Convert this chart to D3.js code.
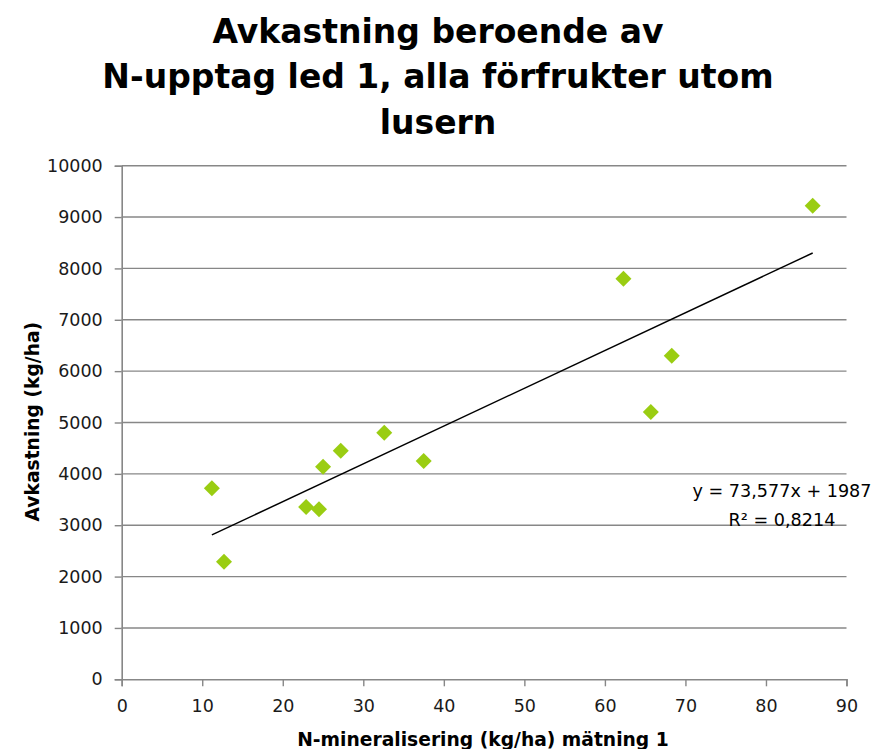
<!DOCTYPE html>
<html><head><meta charset="utf-8">
<script src="https://cdn.jsdelivr.net/npm/d3@7"></script>
<style>body{margin:0;background:#fff}svg{display:block}</style>
</head><body>
<script>
const titleLines = ["Avkastning beroende av", "N-upptag led 1, alla förfrukter utom", "lusern"];
const xTitle = "N-mineralisering (kg/ha) mätning 1";
const yTitle = "Avkastning (kg/ha)";
const xValues = [11.2, 12.7, 22.9, 24.5, 25.0, 27.2, 32.6, 37.5, 62.3, 65.7, 68.3, 85.8];
const yValues = [3720, 2290, 3355, 3310, 4140, 4450, 4800, 4250, 7800, 5205, 6300, 9220];
const xTicks = [0, 10, 20, 30, 40, 50, 60, 70, 80, 90];
const yTicks = [0, 1000, 2000, 3000, 4000, 5000, 6000, 7000, 8000, 9000, 10000];
const slope = 73.577, intercept = 1987;
const eqLines = ["y = 73,577x + 1987", "R² = 0,8214"];

const W = 877, H = 749;
const svg = d3.select("body").append("svg").attr("width", W).attr("height", H);
const x = d3.scaleLinear().domain([0, 90]).range([121.7, 846.5]);
const y = d3.scaleLinear().domain([0, 10000]).range([679.3, 165.7]);
const grid = "#878787";

// gridlines
svg.append("g").selectAll("line").data(yTicks.filter(d => d > 0)).join("line")
  .attr("x1", x(0)).attr("x2", x(90)).attr("y1", d => y(d)).attr("y2", d => y(d))
  .attr("stroke", grid).attr("stroke-width", 1.4);

// y axis
const yAxis = svg.append("g").attr("transform", `translate(${x(0)},0)`)
  .call(d3.axisLeft(y).tickValues(yTicks).tickSize(7).tickPadding(12).tickFormat(d3.format("d")));
// x axis
const xAxis = svg.append("g").attr("transform", `translate(0,${y(0)})`)
  .call(d3.axisBottom(x).tickValues(xTicks).tickSize(7).tickPadding(13).tickFormat(d3.format("d")));
[yAxis, xAxis].forEach(a => {
  a.select(".domain").attr("stroke", grid).attr("stroke-width", 1.6);
  a.selectAll(".tick line").attr("stroke", grid).attr("stroke-width", 1.4);
  a.selectAll("text").attr("font-family", "DejaVu Sans").attr("font-size", 17.5).attr("fill", "#1a1a1a");
});

// trendline
const xMin = d3.min(xValues), xMax = d3.max(xValues);
svg.append("line")
  .attr("x1", x(xMin)).attr("y1", y(slope * xMin + intercept))
  .attr("x2", x(xMax)).attr("y2", y(slope * xMax + intercept))
  .attr("stroke", "#000").attr("stroke-width", 1.5);

// points
const pts = xValues.map((v, i) => [v, yValues[i]]);
svg.append("g").selectAll("path").data(pts).join("path")
  .attr("d", d3.symbol().type(d3.symbolSquare).size(128))
  .attr("transform", d => `translate(${x(d[0])},${y(d[1])}) rotate(45)`)
  .attr("fill", "#9ACD12");

// title
svg.append("text").attr("x", 440).attr("text-anchor", "middle")
  .attr("font-family", "DejaVu Sans").attr("font-weight", "bold").attr("font-size", 33).attr("fill", "#000")
  .selectAll("tspan").data(titleLines).join("tspan")
  .attr("x", 438).attr("y", (d, i) => 42.7 + i * 45.5).text(d => d);

// axis titles
svg.append("text").attr("x", 483).attr("y", 746).attr("text-anchor", "middle")
  .attr("font-family", "DejaVu Sans").attr("font-weight", "bold").attr("font-size", 18.7).text(xTitle);
svg.append("text").attr("transform", `translate(39,421.7) rotate(-90)`)
  .attr("text-anchor", "middle")
  .attr("font-family", "DejaVu Sans").attr("font-weight", "bold").attr("font-size", 18.7).text(yTitle);

// equation
svg.append("text").attr("text-anchor", "middle")
  .attr("font-family", "DejaVu Sans").attr("font-size", 17.6).attr("fill", "#000")
  .selectAll("tspan").data(eqLines).join("tspan")
  .attr("x", 782).attr("y", (d, i) => 497 + i * 28.5).text(d => d);
</script>
</body></html>
